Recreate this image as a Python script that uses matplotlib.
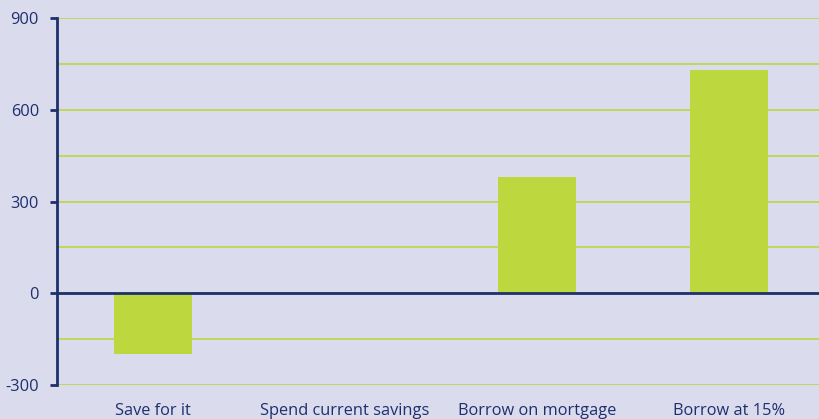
import matplotlib.pyplot as plt

categories = ['Save for it', 'Spend current savings', 'Borrow on mortgage', 'Borrow at 15%']
values = [-200, 0, 380, 730]
y_ticks = [-300, 0, 300, 600, 900]

bg = '#dadced'
navy = '#1f2f6e'
green = '#bdd73e'

plt.rcParams['font.family'] = ['Open Sans', 'DejaVu Sans']
plt.rcParams['axes.unicode_minus'] = False

fig = plt.figure(figsize=(8.2, 4.19), dpi=100, facecolor=bg)
ax = fig.add_axes([57 / 820, 34 / 419, 768 / 820, 367 / 419], facecolor=bg)

x = range(len(categories))
ax.bar(x, values, width=0.405, color=green, zorder=3)

ax.set_xlim(-0.5, 3.5)
ax.set_ylim(-300, 900)
ax.set_yticks(y_ticks)
ax.set_yticks(range(-300, 901, 150), minor=True)
ax.grid(axis='y', which='both', color=green, linewidth=1.2, zorder=1)
ax.axhline(0, color=navy, linewidth=2, zorder=4)

ax.set_xticks(list(x))
ax.set_xticklabels(categories)
ax.tick_params(axis='x', length=0, pad=13, labelsize=11.8, labelcolor=navy)
ax.tick_params(axis='y', which='major', length=5, width=2, color=navy,
               labelsize=11.8, labelcolor=navy, pad=8)
ax.tick_params(axis='y', which='minor', length=0)

for s in ['top', 'right', 'bottom']:
    ax.spines[s].set_visible(False)
ax.spines['left'].set_color(navy)
ax.spines['left'].set_linewidth(2)

fig.savefig('out.png', dpi=100, facecolor=bg)
